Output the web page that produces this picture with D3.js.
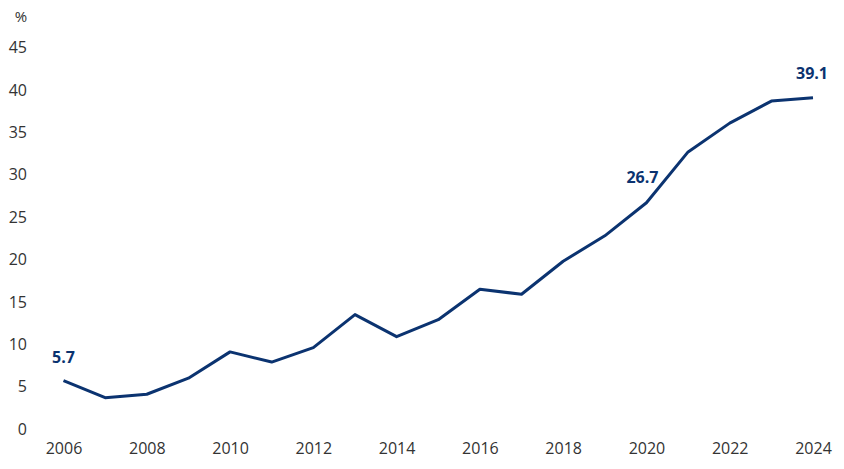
<!DOCTYPE html>
<html>
<head>
<meta charset="utf-8">
<script src="https://cdn.jsdelivr.net/npm/d3@7"></script>
<style>
  body { margin: 0; background: #fff; }
  text { font-family: "Segoe UI", "Open Sans", "Noto Sans", sans-serif; }
</style>
</head>
<body>
<svg id="chart" width="844" height="469"></svg>
<script>
// data
const years = [2006, 2007, 2008, 2009, 2010, 2011, 2012, 2013, 2014, 2015,
               2016, 2017, 2018, 2019, 2020, 2021, 2022, 2023, 2024];
const values = [5.7, 3.7, 4.1, 6.0, 9.1, 7.9, 9.6, 13.5, 10.9, 12.9,
                16.5, 15.9, 19.8, 22.8, 26.7, 32.7, 36.1, 38.7, 39.1];
const yTicks = [0, 5, 10, 15, 20, 25, 30, 35, 40, 45];
const xTicks = [2006, 2008, 2010, 2012, 2014, 2016, 2018, 2020, 2022, 2024];
const labelled = [2006, 2020, 2024];

const svg = d3.select("#chart");
const lineColor = "#0b3370";
const textColor = "#333";

const x = d3.scaleLinear()
    .domain([2006, 2024])
    .range([63.5, 813]);

const y = d3.scaleLinear()
    .domain([0, 45])
    .range([429, 47.7]);

// y axis labels, no line
const yAxis = svg.append("g")
    .attr("transform", "translate(27,0)")
    .call(d3.axisLeft(y).tickValues(yTicks).tickSize(0).tickPadding(0));
yAxis.select(".domain").remove();
yAxis.selectAll("text")
    .attr("fill", textColor)
    .style("font-size", "16px");

svg.append("text")
    .attr("x", 21)
    .attr("y", 17)
    .attr("dy", "0.35em")
    .attr("text-anchor", "middle")
    .attr("fill", textColor)
    .style("font-size", "15px")
    .text("%");

// x axis labels
const xAxis = svg.append("g")
    .attr("transform", "translate(0,443)")
    .call(d3.axisBottom(x).tickValues(xTicks).tickFormat(d3.format("d")).tickSize(0).tickPadding(0));
xAxis.select(".domain").remove();
xAxis.selectAll("text")
    .attr("fill", textColor)
    .style("font-size", "16px");

// the line
const line = d3.line()
    .x((d, i) => x(years[i]))
    .y(d => y(d));

svg.append("path")
    .datum(values)
    .attr("fill", "none")
    .attr("stroke", lineColor)
    .attr("stroke-width", 3)
    .attr("stroke-linejoin", "round")
    .attr("d", line);

// value labels
const labelOffset = { 2006: [0, -23], 2020: [-4, -25], 2024: [-1, -24] };
svg.selectAll(".vlabel")
    .data(labelled)
    .enter()
    .append("text")
    .attr("class", "vlabel")
    .attr("x", d => x(d) + labelOffset[d][0])
    .attr("y", d => y(values[years.indexOf(d)]) + labelOffset[d][1])
    .attr("dy", "0.35em")
    .attr("text-anchor", "middle")
    .attr("fill", lineColor)
    .style("font-size", "16px")
    .style("font-weight", "bold")
    .text(d => values[years.indexOf(d)].toFixed(1));
</script>
</body>
</html>
